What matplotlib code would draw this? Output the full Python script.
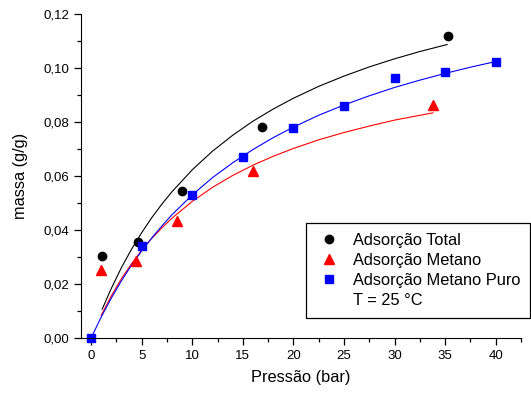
import matplotlib
matplotlib.use("Agg")
import matplotlib.pyplot as plt
from matplotlib.lines import Line2D

plt.rcParams['font.family'] = ['Liberation Sans', 'DejaVu Sans']

# measured points
p_total = [1.1, 4.6, 8.95, 16.9, 35.3]
m_total = [0.0305, 0.0355, 0.0544, 0.0780, 0.1120]

p_metano = [1.0, 4.4, 8.5, 16.0, 33.8]
m_metano = [0.0252, 0.0286, 0.0435, 0.0617, 0.0864]

p_puro = [0, 5, 10, 15, 20, 25, 30, 35, 40]
m_puro = [0.0, 0.0341, 0.0530, 0.0669, 0.0776, 0.0860, 0.0964, 0.0984, 0.1024]

# fitted curves
fit_total_p = [1.1, 2, 3, 4, 5, 6, 7, 8, 10, 12, 14, 16, 18, 20, 22.5, 25, 27.5, 30, 32.5, 35.2]
fit_total_m = [0.0107, 0.0184, 0.0261, 0.0329, 0.0390, 0.0446, 0.0496, 0.0542, 0.0623, 0.0692,
               0.0751, 0.0803, 0.0848, 0.0888, 0.0932, 0.0970, 0.1004, 0.1034, 0.1061, 0.1087]

fit_metano_p = [1.0, 2, 3, 4, 5, 6, 7, 8, 10, 12, 14, 16, 18, 20, 22.5, 25, 27.5, 30, 33.8]
fit_metano_m = [0.0084, 0.0156, 0.0220, 0.0275, 0.0325, 0.0369, 0.0408, 0.0444, 0.0506, 0.0558,
                0.0602, 0.0640, 0.0673, 0.0702, 0.0734, 0.0761, 0.0785, 0.0807, 0.0834]

fit_puro_p = [0, 1, 2, 3, 4, 5, 6, 7, 8, 10, 12, 14, 16, 18, 20, 22.5, 25, 27.5, 30, 32.5, 35, 37.5, 40]
fit_puro_m = [0.0, 0.0078, 0.0148, 0.0212, 0.0270, 0.0323, 0.0371, 0.0415, 0.0457, 0.0530, 0.0594,
              0.0649, 0.0698, 0.0742, 0.0781, 0.0825, 0.0863, 0.0897, 0.0928, 0.0955, 0.0980,
              0.1003, 0.1024]

x_ticks = [0, 5, 10, 15, 20, 25, 30, 35, 40]
y_ticks = [0.0, 0.02, 0.04, 0.06, 0.08, 0.10, 0.12]
y_tick_labels = ["0,00", "0,02", "0,04", "0,06", "0,08", "0,10", "0,12"]

fig = plt.figure(figsize=(5.31, 3.94), dpi=100)
ax = fig.add_axes([81 / 531, 1 - 338 / 394, 440 / 531, 324 / 394])

ax.plot(fit_total_p, fit_total_m, color="black", lw=0.8)
ax.plot(fit_metano_p, fit_metano_m, color="red", lw=0.8)
ax.plot(fit_puro_p, fit_puro_m, color="blue", lw=0.8)

ax.plot(p_total, m_total, "o", color="black", ms=6, label="Adsorção Total", clip_on=False)
ax.plot(p_metano, m_metano, "^", color="red", ms=6.5, label="Adsorção Metano", clip_on=False)
ax.plot(p_puro, m_puro, "s", color="blue", ms=5.5, label="Adsorção Metano Puro", clip_on=False)

ax.set_xlim(-1, 42)
ax.set_ylim(0, 0.12)
ax.set_xticks(x_ticks)
ax.set_xticks([x + 2.5 for x in x_ticks], minor=True)
ax.set_yticks(y_ticks)
ax.set_yticklabels(y_tick_labels)
ax.set_yticks([y + 0.01 for y in y_ticks[:-1]], minor=True)

ax.spines["top"].set_visible(False)
ax.spines["right"].set_visible(False)
ax.tick_params(which="major", direction="out", length=5, width=0.9, labelsize=9.5)
ax.tick_params(which="minor", direction="out", length=3, width=0.9)

ax.set_xlabel("Pressão (bar)", fontsize=11.8, labelpad=6)
ax.set_ylabel("massa (g/g)", fontsize=11.8, labelpad=11)

handles, labels = ax.get_legend_handles_labels()
handles.append(Line2D([], [], linestyle="none", marker=None))
labels.append("T = 25 °C")
leg = ax.legend(handles, labels, loc="upper left", bbox_to_anchor=(0.511, 0.355),
                fontsize=11.8, frameon=True, fancybox=False, framealpha=1,
                handlelength=1.6, handletextpad=0.69, labelspacing=0.32,
                borderpad=0.59, borderaxespad=0)
leg.get_frame().set_edgecolor("black")
leg.get_frame().set_linewidth(0.9)

fig.savefig("out.png", dpi=100)
